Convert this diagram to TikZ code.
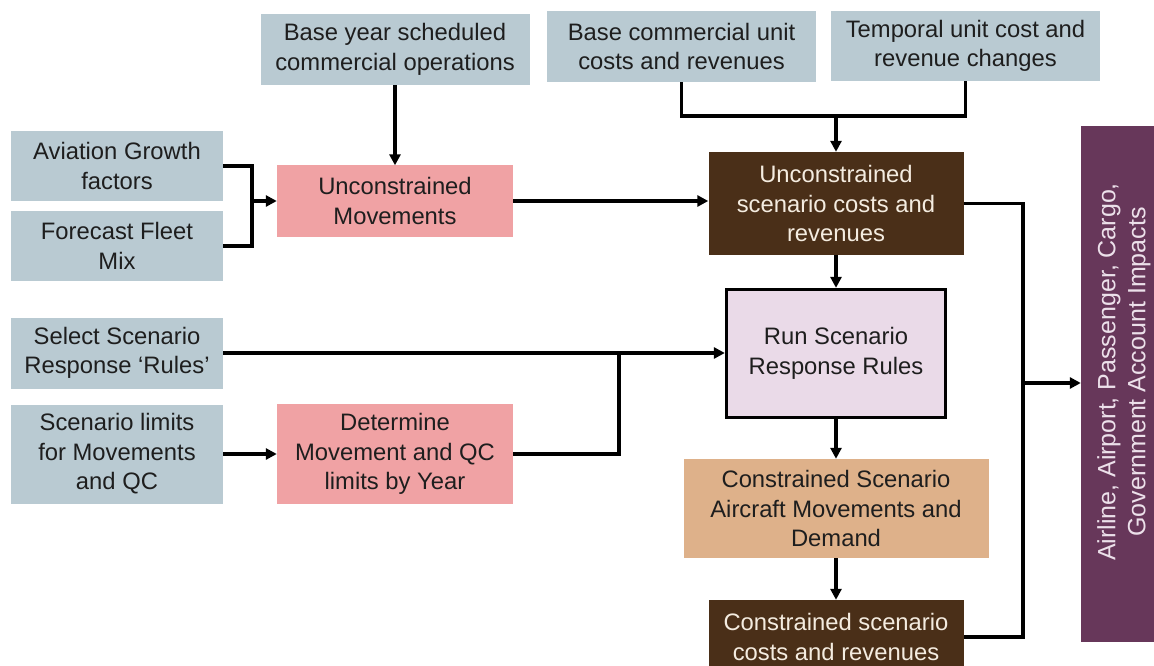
\documentclass[tikz,border=0pt]{standalone}
\usepackage{fontspec}
\setmainfont{Liberation Sans}
\usetikzlibrary{arrows.meta}
\definecolor{gbox}{RGB}{185,202,210}
\definecolor{pbox}{RGB}{240,162,164}
\definecolor{bbox}{RGB}{74,47,24}
\definecolor{lbox}{RGB}{234,218,232}
\definecolor{tbox}{RGB}{222,177,138}
\definecolor{ubox}{RGB}{103,55,90}
\definecolor{dtext}{RGB}{30,30,30}
\definecolor{ctext}{RGB}{244,236,224}
\definecolor{ptext}{RGB}{236,224,234}
\begin{document}
\begin{tikzpicture}[x=1pt,y=-1pt,
  box/.style={rectangle, inner sep=0pt, align=center, text=dtext,
    font=\fontsize{23.8}{29.5}\selectfont},
  grey/.style={box, fill=gbox},
  pink/.style={box, fill=pbox},
  brown/.style={box, fill=bbox, text=ctext},
  tan/.style={box, fill=tbox},
  ln/.style={line width=3.3pt, line join=miter, draw=black},
  arr/.style={ln, -{Triangle[length=11pt,width=11pt]}}]
\clip (0,0) rectangle (1154,666);
\fill[white] (0,0) rectangle (1154,666);

% nodes
\node[grey, minimum width=269pt, minimum height=71pt] (by) at (395,49.5) {Base year scheduled\\commercial operations};
\node[grey, minimum width=269pt, minimum height=71pt] (bc) at (681.5,46.5) {Base commercial unit\\costs and revenues};
\node[grey, minimum width=269pt, minimum height=70pt] (tc) at (965.5,46) {Temporal unit cost and\\revenue changes};
\node[grey, minimum width=212pt, minimum height=70pt] (ag) at (117,166) {Aviation Growth\\factors};
\node[grey, minimum width=212pt, minimum height=70pt] (ff) at (117,246) {Forecast Fleet\\Mix};
\node[pink, minimum width=236pt, minimum height=71pt] (um) at (395,201) {Unconstrained\\Movements};
\node[brown, minimum width=255pt, minimum height=103pt] (uc) at (836,203.5) {Unconstrained\\scenario costs and\\revenues};
\node[box, fill=lbox, draw=black, line width=3.3pt, minimum width=219pt, minimum height=128pt] (rr) at (836,353.5) {Run Scenario\\Response Rules};
\node[grey, minimum width=212pt, minimum height=71pt] (ss) at (117,353) {Select Scenario\\Response ‘Rules’};
\node[grey, minimum width=212pt, minimum height=99pt] (sl) at (117,454) {Scenario limits\\for Movements\\and QC};
\node[pink, minimum width=236pt, minimum height=100pt] (dm) at (395,454) {Determine\\Movement and QC\\limits by Year};
\node[tan, minimum width=305pt, minimum height=99pt] (cs) at (836,508.5) {Constrained Scenario\\Aircraft Movements and\\Demand};
\node[brown, minimum width=255pt, minimum height=74pt] (cc) at (836,637) {Constrained scenario\\costs and revenues};
\node[rectangle, fill=ubox, inner sep=0pt, minimum width=80pt, minimum height=516pt] (pu) at (1121,384) {};
\node[box, text=ptext, rotate=90, font=\fontsize{25}{30}\selectfont] (pt) at (1124,372) {Airline, Airport, Passenger, Cargo,\\Government Account Impacts};

% junctions
\coordinate (j1) at (252,201);
\coordinate (j2) at (836,116);
\coordinate (j3) at (619,353);
\coordinate (j4) at (1023,383);

% connectors
\draw[arr] (by.south) -- (by.south |- um.north);
\draw[ln] (ag.east) -| (j1) |- (ff.east);
\draw[arr] (j1) -- (j1 -| um.west);
\draw[ln] (bc.south) |- (j2) -| (tc.south);
\draw[arr] (j2) -- (j2 |- uc.north);
\draw[arr] (um.east) -- (um.east -| uc.west);
\draw[arr] (uc.south) -- (rr.north);
\draw[arr] (ss.east) -- (ss.east -| rr.west);
\draw[ln] (dm.east) -| (j3);
\draw[arr] (sl.east) -- (sl.east -| dm.west);
\draw[arr] (rr.south) -- (cs.north);
\draw[arr] (cs.south) -- (cc.north);
\draw[ln] (uc.east) -| (j4) |- (cc.east);
\draw[arr] (j4) -- (j4 -| pu.west);
\end{tikzpicture}
\end{document}
